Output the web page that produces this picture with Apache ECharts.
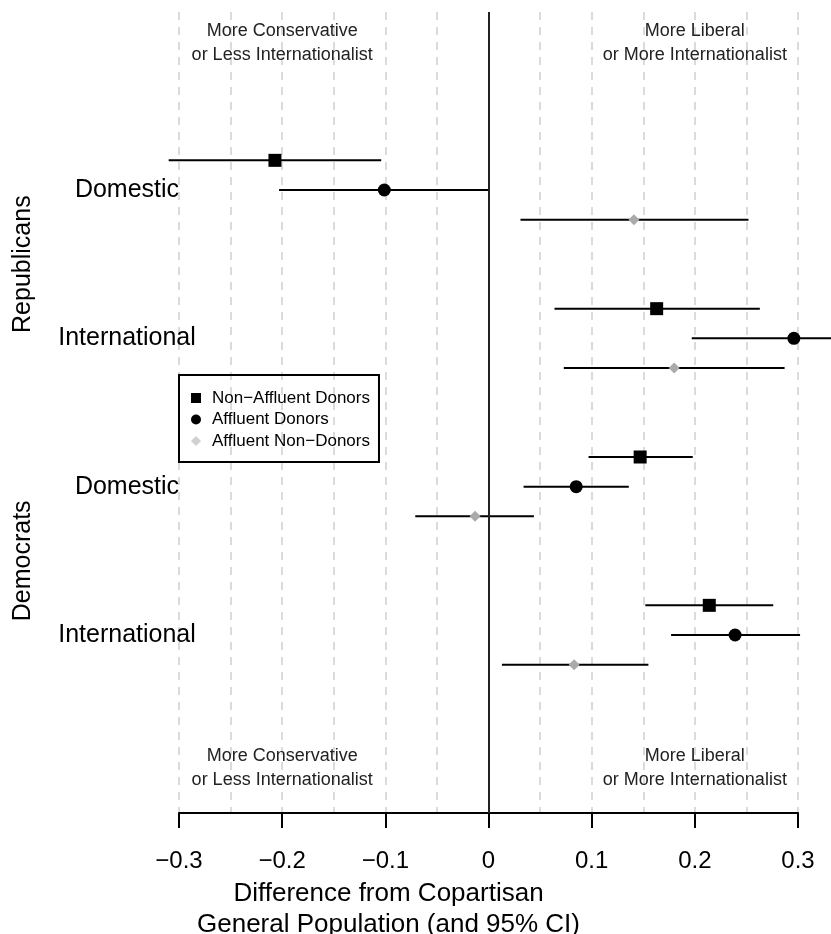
<!DOCTYPE html>
<html>
<head>
<meta charset="utf-8">
<script src="https://cdn.jsdelivr.net/npm/echarts@6/dist/echarts.min.js"></script>
<style>
  html, body { margin: 0; padding: 0; background: #fff; }
  #main { width: 831px; height: 934px; }
</style>
</head>
<body>
<div id="main"></div>
<script>
// question blocks, top to bottom
var parties = ['Republicans', 'Democrats'];
var questions = ['Domestic', 'International', 'Domestic', 'International'];
var groups = ['Non\u2212Affluent Donors', 'Affluent Donors', 'Affluent Non\u2212Donors'];

// estimates and 95% CI, one value per question block
var nonAffluentEst = [-0.207, 0.163, 0.147, 0.214];
var nonAffluentLo = [-0.310, 0.064, 0.097, 0.152];
var nonAffluentHi = [-0.104, 0.263, 0.198, 0.276];

var affluentEst = [-0.101, 0.296, 0.085, 0.239];
var affluentLo = [-0.203, 0.197, 0.034, 0.177];
var affluentHi = [0.000, 0.394, 0.136, 0.302];

var nonDonorEst = [0.141, 0.180, -0.013, 0.083];
var nonDonorLo = [0.031, 0.073, -0.071, 0.013];
var nonDonorHi = [0.252, 0.287, 0.044, 0.155];

var FONT = '"Liberation Sans", Arial, Helvetica, sans-serif';

// row of a point: block centre at 6, 11, 16, 21; groups stacked around it
function rowOf(q, g) { return 6 + 5 * q + (g - 1); }

function points(est, g) {
  return est.map(function (v, q) { return [v, rowOf(q, g)]; });
}
function bars(lo, hi, g) {
  return lo.map(function (v, q) { return [v, hi[q], rowOf(q, g)]; });
}

function errorBar(params, api) {
  var y = api.value(2);
  var a = api.coord([api.value(0), y]);
  var b = api.coord([api.value(1), y]);
  return {
    type: 'line',
    shape: { x1: a[0], y1: a[1], x2: b[0], y2: b[1] },
    style: { stroke: '#000', lineWidth: 2 }
  };
}

var chart = echarts.init(document.getElementById('main'));

var barSets = [
  bars(nonAffluentLo, nonAffluentHi, 0),
  bars(affluentLo, affluentHi, 1),
  bars(nonDonorLo, nonDonorHi, 2)
];

var series = barSets.map(function (d, i) {
  var s = {
    type: 'custom',
    name: 'ci' + i,
    renderItem: errorBar,
    encode: { x: [0, 1], y: 2 },
    data: d,
    clip: false,
    z: 2,
    silent: true
  };
  if (i === 0) {
    s.markLine = {
      silent: true,
      symbol: 'none',
      label: { show: false },
      lineStyle: { color: '#222', width: 2, type: 'solid' },
      data: [{ xAxis: 0 }]
    };
  }
  return s;
});

series.push({
  type: 'scatter', name: groups[0], symbol: 'rect', symbolSize: 13,
  itemStyle: { color: '#000', opacity: 1 }, data: points(nonAffluentEst, 0), z: 5
});
series.push({
  type: 'scatter', name: groups[1], symbol: 'circle', symbolSize: 13,
  itemStyle: { color: '#000', opacity: 1 }, data: points(affluentEst, 1), z: 5
});
series.push({
  type: 'scatter', name: groups[2], symbol: 'diamond', symbolSize: 11,
  itemStyle: { color: '#aaaaaa', opacity: 1 }, data: points(nonDonorEst, 2), z: 5
});

var ROWS = 27;

chart.setOption({
  backgroundColor: '#fff',
  animation: false,
  textStyle: { fontFamily: FONT },
  grid: { left: 179, right: 33, top: 12, bottom: 121, outerBoundsMode: 'none', containLabel: false },
  xAxis: {
    type: 'value',
    min: -0.3,
    max: 0.3,
    interval: 0.1,
    axisLine: { show: true, onZero: false, lineStyle: { color: '#000', width: 2 } },
    axisTick: { show: true, length: 15, lineStyle: { color: '#000', width: 2 } },
    axisLabel: {
      margin: 36,
      fontSize: 24,
      color: '#000',
      fontFamily: FONT,
      formatter: function (v) {
        var r = Math.round(v * 10) / 10;
        return r === 0 ? '0' : r.toFixed(1).replace('-', '\u2212');
      }
    },
    splitLine: { show: true, lineStyle: { color: '#cfcfcf', width: 1.5, type: [8, 7] } },
    minorTick: { show: false, splitNumber: 2 },
    minorSplitLine: { show: true, lineStyle: { color: '#cfcfcf', width: 1.5, type: [8, 7] } },
    name: 'Difference from Copartisan\nGeneral Population (and 95% CI)',
    nameLocation: 'middle',
    nameGap: 61,
    nameTextStyle: { fontSize: 26, lineHeight: 31, color: '#000', fontFamily: FONT, padding: [0, 200, 0, 0] }
  },
  yAxis: [
    {
      type: 'value', inverse: true, min: 0, max: ROWS,
      axisLine: { show: false }, axisTick: { show: false }, splitLine: { show: false },
      axisLabel: {
        customValues: [6, 11, 16, 21],
        margin: 52,
        align: 'center',
        fontSize: 25,
        color: '#000',
        fontFamily: FONT,
        formatter: function (v) { return questions[Math.round((v - 6) / 5)]; }
      }
    },
    {
      type: 'value', inverse: true, min: 0, max: ROWS, position: 'left',
      axisLine: { show: false }, axisTick: { show: false }, splitLine: { show: false },
      axisLabel: {
        customValues: [8.5, 18.5],
        rotate: 90,
        margin: 143,
        fontSize: 25,
        color: '#000',
        fontFamily: FONT,
        formatter: function (v) { return parties[Math.round((v - 8.5) / 10)]; }
      }
    }
  ],
  legend: {
    orient: 'vertical',
    left: 179,
    top: 375,
    padding: [13, 9, 11, 12],
    itemWidth: 10,
    itemHeight: 10,
    itemGap: 1.5,
    borderColor: '#000',
    borderWidth: 2,
    borderRadius: 0,
    textStyle: { fontSize: 17, lineHeight: 20, color: '#000', fontFamily: FONT, padding: [0, 0, 0, 6] },
    data: [
      { name: groups[0], icon: 'rect', itemStyle: { color: '#000' } },
      { name: groups[1], icon: 'circle', itemStyle: { color: '#000' } },
      { name: groups[2], icon: 'diamond', itemStyle: { color: '#d0d0d0' } }
    ],
    selectedMode: false
  },
  series: series
});

// direction notes, centred on x = -0.2 and x = 0.2, near the top and bottom of the plot
var noteX = [-0.2, 0.2];
var noteText = ['More Conservative\nor Less Internationalist', 'More Liberal\nor More Internationalist'];
var noteRows = [1.05, 25.5];
var notes = [];
noteX.forEach(function (x, i) {
  noteRows.forEach(function (r) {
    var p = chart.convertToPixel({ xAxisIndex: 0, yAxisIndex: 0 }, [x, r]);
    notes.push({
      type: 'text',
      x: p[0], y: p[1],
      style: {
        text: noteText[i], align: 'center', verticalAlign: 'middle',
        fontSize: 18, lineHeight: 24, fontFamily: FONT, fill: '#222'
      }
    });
  });
});
chart.setOption({ graphic: notes });
</script>
</body>
</html>
